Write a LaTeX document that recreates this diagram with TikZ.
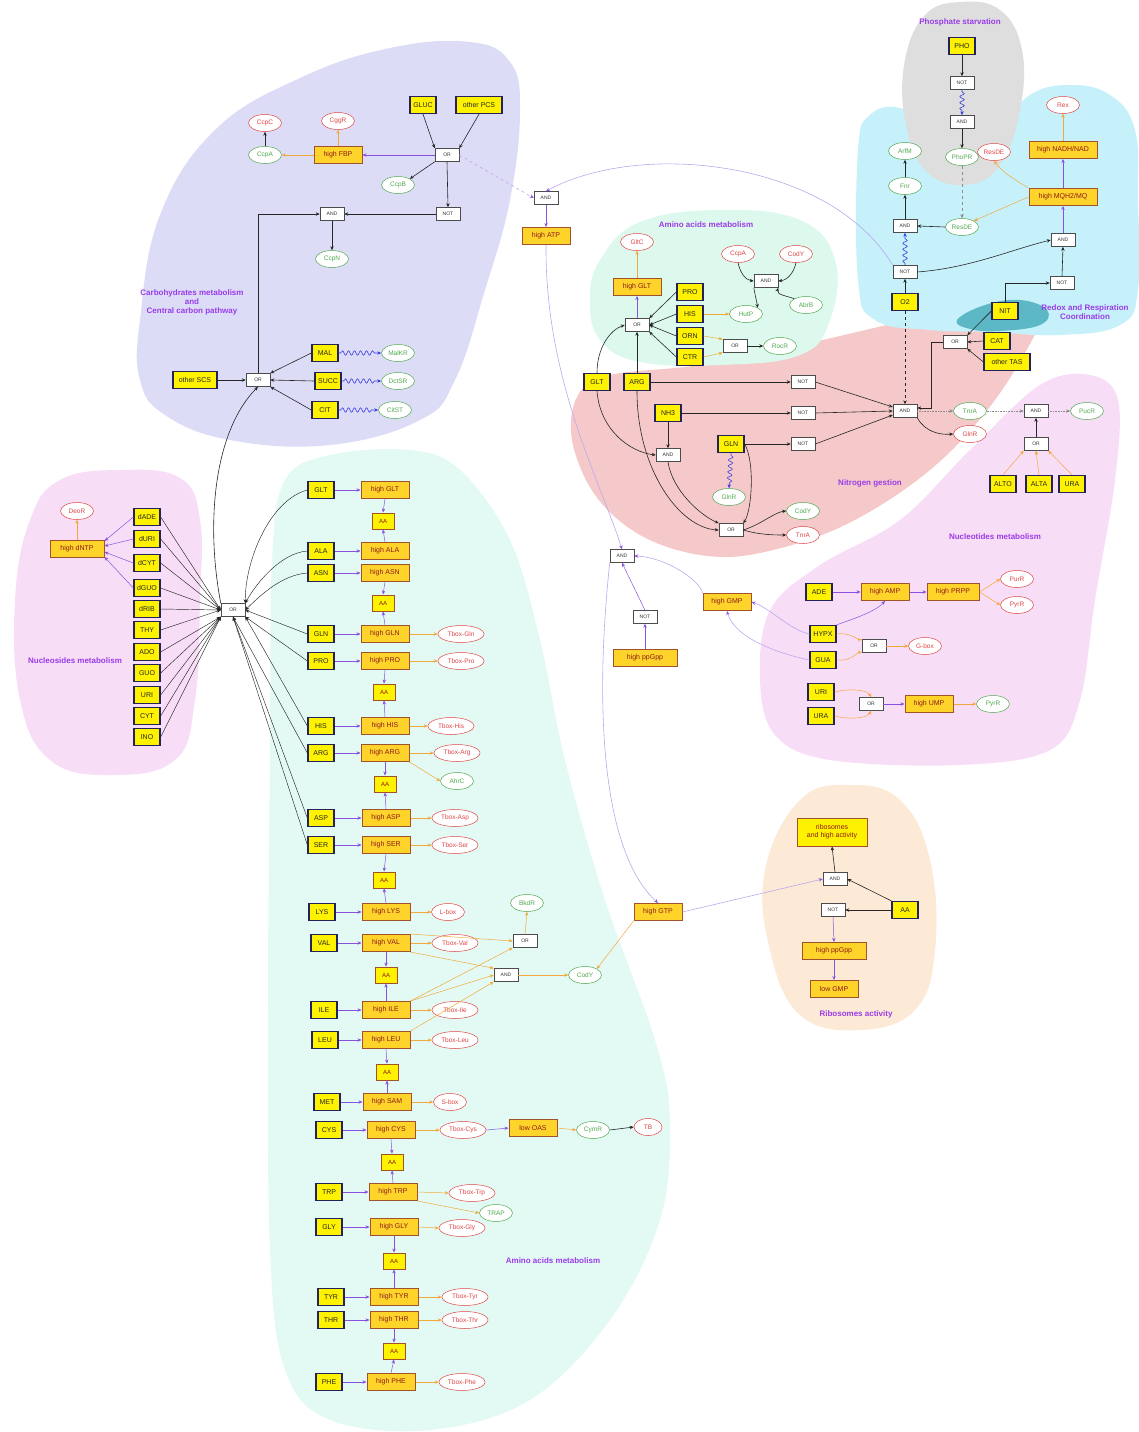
\documentclass[tikz,border=0pt]{standalone}
\usepackage{fontspec}
\setmainfont{Liberation Sans}
\usetikzlibrary{arrows.meta,shapes.geometric,decorations.pathmorphing,calc}

\definecolor{inedge}{HTML}{23235A}
\definecolor{hiedge}{HTML}{A0522D}
\definecolor{gold}{HTML}{FFD42A}
\definecolor{hitext}{HTML}{8B1A1A}
\definecolor{grn}{HTML}{4FA84F}
\definecolor{rd}{HTML}{E04545}
\definecolor{parrow}{HTML}{8A50E0}
\definecolor{larrow}{HTML}{BBA8EE}
\definecolor{oarrow}{HTML}{F2A93B}
\definecolor{lbl}{HTML}{9A3BE8}
\definecolor{snk}{HTML}{3C3CE0}
\definecolor{lav}{HTML}{DCDCF7}
\definecolor{grayreg}{HTML}{DEDEDE}
\definecolor{cyanreg}{HTML}{C6F1FA}
\definecolor{tealreg}{HTML}{5CB8C4}
\definecolor{salmon}{HTML}{F5C9C9}
\definecolor{mintup}{HTML}{DDF9EE}
\definecolor{pinkreg}{HTML}{F8DDF6}
\definecolor{mintbig}{HTML}{E3FAF4}
\definecolor{peach}{HTML}{FCE9D6}

\tikzset{
  inbox/.style={draw=inedge, line width=1.3pt, fill=yellow, text=black!85, font=\fontsize{7}{8}\selectfont, minimum width=26pt, minimum height=17pt, inner sep=1.5pt},
  hibox/.style={draw=hiedge, line width=1pt, fill=gold, text=hitext, font=\fontsize{7}{8}\selectfont, minimum width=48pt, minimum height=17pt, inner sep=1.5pt},
  aabox/.style={draw=hiedge, line width=1pt, fill=yellow, text=hitext, font=\fontsize{6}{7}\selectfont, minimum width=22pt, minimum height=16pt, inner sep=1pt},
  gate/.style={draw=black!70, fill=white, line width=0.5pt, text=black!80, font=\fontsize{5}{6}\selectfont, minimum width=24pt, minimum height=13pt, inner sep=1pt},
  gel/.style={ellipse, draw=grn, fill=white, text=grn, line width=0.5pt, font=\fontsize{6.5}{7}\selectfont, minimum width=33pt, minimum height=17pt, inner sep=0pt},
  rel/.style={ellipse, draw=rd, fill=white, text=rd, line width=0.5pt, font=\fontsize{6.5}{7}\selectfont, minimum width=33pt, minimum height=17pt, inner sep=0pt},
  tbox/.style={rel, minimum width=46pt},
  rlab/.style={text=lbl, font=\fontsize{8}{9}\selectfont\bfseries, align=center},
  ka/.style={draw=black!85, line width=0.6pt, -{Stealth[length=4pt,width=3.4pt]}},
  pa/.style={draw=parrow, line width=0.5pt, -{Stealth[length=4pt,width=3.4pt]}},
  la/.style={draw=larrow, line width=0.6pt, -{Stealth[length=4pt,width=3.4pt,color=parrow]}},
  oa/.style={draw=oarrow, line width=0.5pt, -{Stealth[length=4pt,width=3.4pt]}},
  sn/.style={draw=snk, line width=0.6pt, -{Stealth[length=4pt,width=3.4pt]}, decorate, decoration={snake, amplitude=2.2pt, segment length=6pt, pre length=2pt, post length=4pt}},
}

\begin{document}
\begin{tikzpicture}[x=1pt,y=-1pt]
\useasboundingbox (0,0) rectangle (1138,1432);

% ---------------- background regions ----------------
\fill[lav] plot[smooth cycle, tension=0.7] coordinates {(140,320) (160,215) (215,130) (300,78) (390,48) (470,42) (510,62) (520,110) (510,200) (485,290) (455,380) (420,420) (330,445) (230,440) (165,415) (140,380)};
\fill[salmon] plot[smooth cycle, tension=0.6] coordinates {(1043,318) (995,400) (930,470) (845,525) (760,553) (700,555) (640,535) (595,495) (572,440) (578,395) (610,375) (700,365) (800,345) (900,322) (980,305) (1035,305)};
\fill[cyanreg] plot[smooth cycle, tension=0.7] coordinates {(858,150) (870,115) (900,108) (930,130) (960,175) (1000,130) (1030,95) (1070,85) (1110,95) (1135,130) (1138,200) (1138,290) (1120,325) (1060,335) (990,332) (930,330) (875,320) (858,280)};
\fill[grayreg] plot[smooth cycle, tension=0.7] coordinates {(905,60) (925,15) (960,2) (1000,10) (1022,50) (1020,110) (1000,165) (965,185) (925,170) (905,120)};
\fill[tealreg] plot[smooth cycle, tension=0.7] coordinates {(957,320) (985,305) (1020,300) (1047,310) (1040,325) (1000,331) (970,329)};
\fill[mintup] plot[smooth cycle, tension=0.7] coordinates {(600,260) (640,222) (720,210) (800,220) (835,260) (830,320) (800,355) (720,365) (640,362) (600,340) (590,300)};
\fill[pinkreg] plot[smooth cycle, tension=0.6] coordinates {(1040,385) (1090,375) (1118,400) (1115,480) (1095,600) (1080,700) (1050,750) (960,765) (830,760) (775,735) (760,680) (770,610) (820,565) (900,520) (970,450)};
\fill[pinkreg] plot[smooth cycle, tension=0.7] coordinates {(30,520) (60,480) (120,470) (180,478) (200,520) (200,600) (195,700) (175,760) (110,775) (50,760) (20,700) (15,600)};
\fill[mintbig] plot[smooth cycle, tension=0.6] coordinates {(285,480) (330,455) (410,450) (460,470) (510,540) (540,640) (565,760) (605,900) (655,1040) (670,1120) (660,1220) (610,1320) (530,1400) (430,1430) (330,1420) (285,1370) (270,1250) (268,1000) (270,750) (272,560)};
\fill[peach] plot[smooth cycle, tension=0.7] coordinates {(800,800) (850,785) (900,800) (930,860) (935,950) (915,1010) (860,1030) (800,1015) (770,950) (765,870)};

% ---------------- region titles ----------------
\node[rlab] (labCarb) at (192,302) {Carbohydrates metabolism\\and\\Central carbon pathway};
\node[rlab] (labPho) at (960,22) {Phosphate starvation};
\node[rlab] (labRedox) at (1085,312) {Redox and Respiration\\Coordination};
\node[rlab] (labAAup) at (706,225) {Amino acids metabolism};
\node[rlab] (labN) at (870,483) {Nitrogen gestion};
\node[rlab] (labNtR) at (995,537) {Nucleotides metabolism};
\node[rlab] (labNsL) at (75,661) {Nucleosides metabolism};
\node[rlab] (labAAlow) at (553,1261) {Amino acids metabolism};
\node[rlab] (labRib) at (856,1014) {Ribosomes activity};

% ---------------- carbohydrates ----------------
\node[rel] (CcpC) at (265,123) {CcpC};
\node[rel] (CggR) at (338,121) {CggR};
\node[gel] (CcpA) at (265,155) {CcpA};
\node[hibox] (hFBP) at (338,155) {high FBP};
\node[inbox] (GLUC) at (423,105) {GLUC};
\node[inbox, minimum width=46pt] (oPCS) at (479,105) {other PCS};
\node[gate] (orGlc) at (447,155) {OR};
\node[gel] (CcpB) at (398,185) {CcpB};
\node[gate] (notGlc) at (448,214) {NOT};
\node[gate] (andCN) at (332,214) {AND};
\node[gel] (CcpN) at (332,259) {CcpN};
\node[inbox, minimum width=44pt] (oSCS) at (195,380) {other SCS};
\node[gate] (orCarb) at (258,380) {OR};
\node[inbox] (MAL) at (325,353) {MAL};
\node[inbox] (SUCC) at (328,381) {SUCC};
\node[inbox] (CIT) at (325,410) {CIT};
\node[gel] (MalKR) at (398,353) {MalKR};
\node[gel] (DctSR) at (398,381) {DctSR};
\node[gel] (CitST) at (395,410) {CitST};

\draw[ka] (GLUC.south) -- (orGlc.north west);
\draw[ka] (oPCS.south) -- (orGlc.north east);
\draw[ka] (orGlc.south west) -- (CcpB.north east);
\draw[ka] (orGlc.south) -- (notGlc.north);
\draw[ka] (notGlc.west) -- (andCN.east);
\draw[ka] (orCarb.north) |- (andCN.west);
\draw[ka] (andCN.south) -- (CcpN.north);
\draw[pa] (orGlc.west) -- (hFBP.east);
\draw[oa] (hFBP.west) -- (CcpA.east);
\draw[oa] (hFBP.north) -- (CggR.south);
\draw[ka] (CcpA.north) -- (CcpC.south);
\draw[ka] (oSCS.east) -- (orCarb.west);
\draw[ka] (MAL.west) -- (orCarb.north east);
\draw[ka] (SUCC.west) -- (orCarb.east);
\draw[ka] (CIT.west) -- (orCarb.south east);
\draw[sn] (MAL.east) -- (MalKR.west);
\draw[sn] (SUCC.east) -- (DctSR.west);
\draw[sn] (CIT.east) -- (CitST.west);

% ---------------- central nutrient OR ----------------
\node[gate] (cOR) at (233,610) {OR};
\draw[ka] (cOR.north west) .. controls (205,520) and (215,430) .. (orCarb.south);

% ---------------- nucleosides (left) ----------------
\node[rel] (DeoR) at (77,511) {DeoR};
\node[hibox, minimum width=54pt] (hdNTP) at (77,549) {high dNTP};
\draw[oa] (hdNTP.north) -- (DeoR.south);
\foreach \n/\y in {dADE/517, dURI/539, dCYT/563, dGUO/588, dRIB/609, THY/630, ADO/652, GUO/673, URI/695, CYT/716, INO/737}{
  \node[inbox] (\n) at (147,\y) {\n};
}
\foreach \n in {dADE, dURI, dCYT, dGUO, dRIB, THY}{
  \draw[ka, line width=0.45pt] (\n.east) -- (cOR.west);
}
\foreach \n in {ADO, GUO, URI, CYT, INO}{
  \draw[ka, line width=0.45pt] (\n.east) -- (cOR.south west);
}
\draw[pa] (dADE.west) -- ($(hdNTP.east)+(0,-8)$);
\draw[pa] (dURI.west) -- ($(hdNTP.east)+(0,-3)$);
\draw[pa] (dCYT.west) -- ($(hdNTP.east)+(0,3)$);
\draw[pa] (dGUO.west) -- ($(hdNTP.east)+(0,8)$);

% ---------------- amino acids column ----------------
\node[inbox] (iGLT) at (321,490) {GLT};
\node[hibox] (hGLT) at (385,490) {high GLT};
\node[aabox] (aa1) at (383,521) {AA};
\node[inbox] (iALA) at (321,551) {ALA};
\node[hibox] (hALA) at (385,551) {high ALA};
\node[inbox] (iASN) at (321,573) {ASN};
\node[hibox] (hASN) at (385,573) {high ASN};
\node[aabox] (aa2) at (383,603) {AA};
\node[inbox] (iGLN) at (321,634) {GLN};
\node[hibox] (hGLN) at (385,634) {high GLN};
\node[tbox] (tGLN) at (461,634) {Tbox-Gln};
\node[inbox] (iPRO) at (321,661) {PRO};
\node[hibox] (hPRO) at (385,661) {high PRO};
\node[tbox] (tPRO) at (461,661) {Tbox-Pro};
\node[aabox] (aa3) at (384,692) {AA};
\node[inbox] (iHIS) at (321,726) {HIS};
\node[hibox] (hHIS) at (385,726) {high HIS};
\node[tbox] (tHIS) at (451,726) {Tbox-His};
\node[inbox] (iARG) at (321,753) {ARG};
\node[hibox] (hARG) at (385,753) {high ARG};
\node[tbox] (tARG) at (457,753) {Tbox-Arg};
\node[gel] (AhrC) at (457,781) {AhrC};
\node[aabox] (aa4) at (385,784) {AA};
\node[inbox] (iASP) at (321,818) {ASP};
\node[hibox] (hASP) at (386,818) {high ASP};
\node[tbox] (tASP) at (455,818) {Tbox-Asp};
\node[inbox] (iSER) at (321,845) {SER};
\node[hibox] (hSER) at (386,845) {high SER};
\node[tbox] (tSER) at (455,845) {Tbox-Ser};
\node[aabox] (aa5) at (384,880) {AA};
\node[inbox] (iLYS) at (322,912) {LYS};
\node[hibox] (hLYS) at (386,912) {high LYS};
\node[rel] (Lbox) at (448,912) {L-box};
\node[inbox] (iVAL) at (324,943) {VAL};
\node[hibox] (hVAL) at (386,943) {high VAL};
\node[tbox] (tVAL) at (455,943) {Tbox-Val};
\node[aabox] (aa6) at (386,975) {AA};
\node[inbox] (iILE) at (324,1010) {ILE};
\node[hibox] (hILE) at (386,1010) {high ILE};
\node[tbox] (tILE) at (455,1010) {Tbox-Ile};
\node[inbox] (iLEU) at (325,1040) {LEU};
\node[hibox] (hLEU) at (386,1040) {high LEU};
\node[tbox] (tLEU) at (455,1040) {Tbox-Leu};
\node[aabox] (aa7) at (387,1072) {AA};
\node[inbox] (iMET) at (327,1102) {MET};
\node[hibox] (hSAM) at (387,1102) {high SAM};
\node[rel] (Sbox) at (450,1102) {S-box};
\node[inbox] (iCYS) at (329,1130) {CYS};
\node[hibox] (hCYS) at (391,1130) {high CYS};
\node[tbox] (tCYS) at (463,1130) {Tbox-Cys};
\node[hibox] (lowOAS) at (533,1128) {low OAS};
\node[gel] (CymR) at (593,1130) {CymR};
\node[rel, minimum width=28pt] (TB) at (648,1127) {TB};
\node[aabox] (aa8) at (392,1162) {AA};
\node[inbox] (iTRP) at (329,1192) {TRP};
\node[hibox] (hTRP) at (393,1192) {high TRP};
\node[tbox] (tTRP) at (472,1193) {Tbox-Trp};
\node[gel] (TRAP) at (496,1213) {TRAP};
\node[inbox] (iGLY) at (329,1227) {GLY};
\node[hibox] (hGLY) at (394,1227) {high GLY};
\node[tbox] (tGLY) at (462,1228) {Tbox-Gly};
\node[aabox] (aa9) at (394,1261) {AA};
\node[inbox] (iTYR) at (331,1297) {TYR};
\node[hibox] (hTYR) at (394,1297) {high TYR};
\node[tbox] (tTYR) at (465,1297) {Tbox-Tyr};
\node[inbox] (iTHR) at (331,1320) {THR};
\node[hibox] (hTHR) at (394,1320) {high THR};
\node[tbox] (tTHR) at (465,1320) {Tbox-Thr};
\node[aabox] (aa10) at (394,1351) {AA};
\node[inbox] (iPHE) at (329,1382) {PHE};
\node[hibox] (hPHE) at (391,1382) {high PHE};
\node[tbox] (tPHE) at (462,1382) {Tbox-Phe};

% input -> high level
\foreach \a/\b in {iGLT/hGLT, iALA/hALA, iASN/hASN, iGLN/hGLN, iPRO/hPRO, iHIS/hHIS, iARG/hARG, iASP/hASP, iSER/hSER, iLYS/hLYS, iVAL/hVAL, iILE/hILE, iLEU/hLEU, iMET/hSAM, iCYS/hCYS, iTRP/hTRP, iGLY/hGLY, iTYR/hTYR, iTHR/hTHR, iPHE/hPHE}{
  \draw[pa] (\a.east) -- (\b.west);
}
% high level -> sensors
\foreach \a/\b in {hGLN/tGLN, hPRO/tPRO, hHIS/tHIS, hARG/tARG, hASP/tASP, hSER/tSER, hLYS/Lbox, hVAL/tVAL, hILE/tILE, hLEU/tLEU, hSAM/Sbox, hCYS/tCYS, hTRP/tTRP, hGLY/tGLY, hTYR/tTYR, hTHR/tTHR, hPHE/tPHE}{
  \draw[oa] (\a.east) -- (\b.west);
}
\draw[oa] (hARG.south east) -- (AhrC.west);
\draw[oa] (hTRP.south east) -- (TRAP.west);
% high level -> AA pool
\foreach \u/\m/\d in {hGLT/aa1/hALA, hASN/aa2/hGLN, hPRO/aa3/hHIS, hARG/aa4/hASP, hSER/aa5/hLYS, hVAL/aa6/hILE, hLEU/aa7/hSAM, hCYS/aa8/hTRP, hGLY/aa9/hTYR, hTHR/aa10/hPHE}{
  \draw[pa] (\u.south) -- (\m.north);
  \draw[pa] (\d.north) -- (\m.south);
}
% amino acids -> central OR
\draw[ka, line width=0.45pt] (iGLT.west) .. controls (270,500) and (245,560) .. (cOR.north east);
\draw[ka, line width=0.45pt] (iALA.west) .. controls (280,553) and (255,585) .. (cOR.north east);
\draw[ka, line width=0.45pt] (iASN.west) .. controls (280,575) and (258,598) .. (cOR.east);
\draw[ka, line width=0.45pt] (iGLN.west) -- (cOR.east);
\draw[ka, line width=0.45pt] (iPRO.west) -- (cOR.south east);
\draw[ka, line width=0.45pt] (iHIS.west) -- (cOR.south east);
\draw[ka, line width=0.45pt] (iARG.west) -- (cOR.south);
\draw[ka, line width=0.45pt] (iASP.west) -- (cOR.south);
\draw[ka, line width=0.45pt] (iSER.west) -- (cOR.south);

% branched chain amino acids
\node[gate] (orB) at (525,941) {OR};
\node[gel] (BkdR) at (527,903) {BkdR};
\node[gate] (andB) at (506,975) {AND};
\node[gel] (CodYb) at (585,975) {CodY};
\draw[oa] (hVAL.north east) -- (orB.west);
\draw[oa] (hILE.north east) -- (orB.south west);
\draw[oa] (orB.north) -- (BkdR.south);
\draw[oa] (hVAL.south east) -- (andB.north west);
\draw[oa] (hILE.north east) -- (andB.west);
\draw[oa] (hLEU.north east) -- (andB.south west);
\draw[oa] (andB.east) -- (CodYb.west);
% cysteine
\draw[pa] (tCYS.east) -- (lowOAS.west);
\draw[oa] (lowOAS.east) -- (CymR.west);
\draw[ka] (CymR.east) -- (TB.west);

% ---------------- upper amino acids ----------------
\node[rel] (GltC) at (637,242) {GltC};
\node[hibox] (hGLT2) at (637,287) {high GLT};
\node[gate] (orAA) at (637,325) {OR};
\node[inbox] (PRO2) at (690,292) {PRO};
\node[inbox] (HIS2) at (690,314) {HIS};
\node[inbox] (ORN) at (690,336) {ORN};
\node[inbox] (CTR) at (690,357) {CTR};
\node[rel] (CcpA2) at (738,254) {CcpA};
\node[rel] (CodYr) at (796,254) {CodY};
\node[gate] (andH) at (766,281) {AND};
\node[gel] (AbrB) at (806,305) {AbrB};
\node[gel] (HutP) at (746,314) {HutP};
\node[gate] (orR) at (735,346) {OR};
\node[gel] (RocR) at (780,346) {RocR};

\draw[pa] (orAA.north) -- (hGLT2.south);
\draw[oa] (hGLT2.north) -- (GltC.south);
\draw[ka] (PRO2.west) -- (orAA.north east);
\draw[ka] (HIS2.west) -- (orAA.east);
\draw[ka] (ORN.west) -- (orAA.east);
\draw[ka] (CTR.west) -- (orAA.south east);
\draw[oa] (HIS2.east) -- (HutP.west);
\draw[ka] (andH.south west) -- (HutP.north east);
\draw[ka] (CcpA2.south) .. controls (740,272) and (745,280) .. (andH.west);
\draw[ka] (CodYr.south) .. controls (794,272) and (788,280) .. (andH.east);
\draw[ka] (AbrB.north west) .. controls (788,296) and (776,295) .. (andH.south east);
\draw[oa] (ORN.east) -- (orR.north west);
\draw[oa] (CTR.east) -- (orR.south west);
\draw[ka] (orR.east) -- (RocR.west);

% ---------------- nitrogen ----------------
\node[inbox] (GLT3) at (597,382) {GLT};
\node[inbox] (ARG3) at (637,382) {ARG};
\node[inbox] (NH3) at (668,413) {NH3};
\node[inbox] (GLN3) at (731,444) {GLN};
\node[gate] (not1) at (803,382) {NOT};
\node[gate] (not2) at (803,413) {NOT};
\node[gate] (not3) at (803,444) {NOT};
\node[gate] (andN) at (668,455) {AND};
\node[gel] (GlnR) at (729,497) {GlnR};
\node[gate] (orN) at (731,530) {OR};
\node[gel] (CodYg) at (803,511) {CodY};
\node[rel] (TnrAr) at (803,535) {TnrA};
\node[gate] (andBig) at (905,411) {AND};
\node[inbox] (O2) at (905,302) {O2};
\node[gate] (orNit) at (955,342) {OR};
\node[inbox] (NIT) at (1005,311) {NIT};
\node[inbox] (CAT) at (997,341) {CAT};
\node[inbox, minimum width=46pt] (oTAS) at (1007,362) {other TAS};
\node[gel] (TnrAg) at (970,411) {TnrA};
\node[rel] (GlnRr) at (970,434) {GlnR};
\node[gate] (andP) at (1036,411) {AND};
\node[gel] (PucR) at (1087,411) {PucR};
\node[gate] (orP) at (1036,444) {OR};
\node[inbox] (ALTO) at (1003,484) {ALTO};
\node[inbox] (ALTA) at (1039,484) {ALTA};
\node[inbox] (URA) at (1072,484) {URA};

\draw[ka] (GLT3.north) .. controls (597,348) and (610,330) .. (orAA.west);
\draw[ka] (ARG3.north) -- (orAA.south);
\draw[ka] (GLT3.south) .. controls (600,430) and (630,452) .. (andN.west);
\draw[ka] (ARG3.south) .. controls (637,470) and (680,528) .. (orN.west);
\draw[ka] (andN.south) .. controls (672,490) and (700,515) .. (orN.north west);
\draw[ka] (NH3.south) -- (andN.north);
\draw[sn] (GLN3.south) -- (GlnR.north);
\draw[ka] (GLN3.east) .. controls (755,462) and (752,510) .. (orN.north east);
\draw[ka] (orN.east) .. controls (760,525) and (775,512) .. (CodYg.west);
\draw[ka] (orN.east) .. controls (760,535) and (775,535) .. (TnrAr.west);
\draw[ka] (ARG3.east) -- (not1.west);
\draw[ka] (NH3.east) -- (not2.west);
\draw[ka] (GLN3.east) -- (not3.west);
\draw[ka] (not1.east) -- ($(andBig.west)+(0,-4)$);
\draw[ka] (not2.east) -- (andBig.west);
\draw[ka] (not3.east) -- ($(andBig.west)+(0,4)$);
\draw[ka, dashed] (O2.south) -- (andBig.north);
\draw[ka] (orNit.west) -| ($(andBig.north east)+(14,0)$) |- ($(andBig.east)+(0,-3)$);
\draw[ka] (NIT.west) -- (orNit.north east);
\draw[ka] (CAT.west) -- (orNit.east);
\draw[ka] (oTAS.west) -- (orNit.south east);
\draw[ka, draw=black!45, densely dotted] (andBig.east) -- (TnrAg.west);
\draw[ka] (andBig.south east) .. controls (925,432) and (940,435) .. (GlnRr.west);
\draw[ka, draw=black!45, densely dotted] (TnrAg.east) -- (andP.west);
\draw[ka, draw=black!45, densely dotted] (andP.east) -- (PucR.west);
\draw[ka] (orP.north) -- (andP.south);
\draw[oa] (ALTO.north) -- (orP.south west);
\draw[oa] (ALTA.north) -- (orP.south);
\draw[oa] (URA.north) -- (orP.south east);

% ---------------- phosphate and redox ----------------
\node[inbox] (PHO) at (962,46) {PHO};
\node[gate] (notP) at (962,83) {NOT};
\node[gate] (andPh) at (962,122) {AND};
\node[gel] (PhoPR) at (962,157) {PhoPR};
\node[rel] (ResDEr) at (994,152) {ResDE};
\node[gel] (ArfM) at (905,151) {ArfM};
\node[gel] (Fnr) at (905,186) {Fnr};
\node[gate] (andR) at (905,226) {AND};
\node[gel] (ResDEg) at (962,227) {ResDE};
\node[gate] (notO) at (905,272) {NOT};
\node[gate] (andMQ) at (1063,240) {AND};
\node[gate] (notNIT) at (1062,283) {NOT};
\node[hibox, minimum width=68pt] (hMQ) at (1063,197) {high MQH2/MQ};
\node[hibox, minimum width=68pt] (hNADH) at (1063,150) {high NADH/NAD};
\node[rel] (Rex) at (1063,105) {Rex};

\draw[ka] (PHO.south) -- (notP.north);
\draw[sn] (notP.south) -- (andPh.north);
\draw[ka] (andPh.south) -- (PhoPR.north);
\draw[ka, draw=black!45, dashed] (PhoPR.south) -- (ResDEg.north);
\draw[ka] (ResDEg.west) -- (andR.east);
\draw[ka] (andR.north) -- (Fnr.south);
\draw[ka] (Fnr.north) -- (ArfM.south);
\draw[ka] (O2.north) -- (notO.south);
\draw[sn] (notO.north) -- (andR.south);
\draw[ka] (notO.east) .. controls (970,268) and (1010,250) .. (andMQ.west);
\draw[ka] (notNIT.north) -- (andMQ.south);
\draw[ka] (NIT.north) |- (notNIT.west);
\draw[pa] (andMQ.north) -- (hMQ.south);
\draw[pa] (hMQ.north) -- (hNADH.south);
\draw[oa] (hNADH.north) -- (Rex.south);
\draw[oa] (hMQ.west) -- (ResDEg.north east);
\draw[oa] (hMQ.north west) .. controls (1015,180) and (1002,172) .. (ResDEr.south);

% ---------------- energy (ATP / GTP) ----------------
\node[gate] (andATP) at (546,198) {AND};
\node[hibox] (hATP) at (546,236) {high ATP};
\node[gate] (andG) at (622,556) {AND};
\node[gate] (notG) at (645,617) {NOT};
\node[hibox, minimum width=64pt] (hppGpp) at (645,658) {high ppGpp};
\node[hibox] (hGMP) at (727,602) {high GMP};
\node[hibox] (hGTP) at (658,912) {high GTP};

\draw[la, dashed] (orGlc.east) -- (andATP.west);
\draw[la] (notO.north west) .. controls (830,160) and (640,140) .. (andATP.north);
\draw[pa] (andATP.south) -- (hATP.north);
\draw[la] (hATP.south) .. controls (545,380) and (600,480) .. (andG.north);
\draw[pa] (hppGpp.north) -- (notG.south);
\draw[pa] (notG.north) -- (andG.south);
\draw[la] (hGMP.north west) .. controls (700,580) and (665,557) .. (andG.east);
\draw[la] (andG.south west) .. controls (595,700) and (600,850) .. (hGTP.north);
\draw[oa] (hGTP.south west) -- (CodYb.north east);

% ---------------- nucleotides (right) ----------------
\node[inbox] (ADE) at (819,592) {ADE};
\node[hibox] (hAMP) at (885,592) {high AMP};
\node[hibox, minimum width=52pt] (hPRPP) at (953,592) {high PRPP};
\node[rel] (PurR) at (1017,579) {PurR};
\node[rel] (PyrRr) at (1017,605) {PyrR};
\node[inbox] (HYPX) at (823,634) {HYPX};
\node[inbox] (GUA) at (823,660) {GUA};
\node[gate] (orG) at (874,646) {OR};
\node[rel] (Gbox) at (925,646) {G-box};
\node[inbox] (URI2) at (821,692) {URI};
\node[inbox] (URA2) at (821,716) {URA};
\node[gate] (orU) at (871,704) {OR};
\node[hibox] (hUMP) at (929,704) {high UMP};
\node[gel] (PyrR) at (993,704) {PyrR};

\draw[pa] (ADE.east) -- (hAMP.west);
\draw[pa] (hAMP.east) -- (hPRPP.west);
\draw[oa] (hPRPP.east) -- (PurR.west);
\draw[oa] (hPRPP.east) -- (PyrRr.west);
\draw[pa] (HYPX.north east) .. controls (850,620) and (875,612) .. (hAMP.south);
\draw[la] (HYPX.west) .. controls (790,630) and (770,608) .. (hGMP.east);
\draw[la] (GUA.west) .. controls (785,655) and (735,640) .. (hGMP.south);
\draw[oa] (HYPX.east) .. controls (850,632) and (858,640) .. (orG.north west);
\draw[oa] (GUA.east) .. controls (850,662) and (858,652) .. (orG.south west);
\draw[oa] (orG.east) -- (Gbox.west);
\draw[oa] (URI2.east) .. controls (850,688) and (868,690) .. (orU.north);
\draw[oa] (URA2.east) .. controls (850,720) and (868,718) .. (orU.south);
\draw[pa] (orU.east) -- (hUMP.west);
\draw[oa] (hUMP.east) -- (PyrR.west);

% ---------------- ribosomes ----------------
\node[hibox, fill=yellow, minimum width=70pt, minimum height=28pt, align=center, inner sep=1pt] (ribo) at (832,832) {ribosomes\\and high activity};
\node[gate] (andRib) at (835,879) {AND};
\node[inbox] (AAr) at (905,910) {AA};
\node[gate] (notRib) at (833,910) {NOT};
\node[hibox, minimum width=64pt] (hppGpp2) at (834,951) {high ppGpp};
\node[hibox] (lowGMP) at (834,989) {low GMP};

\draw[ka] (andRib.north) -- (ribo.south);
\draw[ka] (AAr.north west) -- (andRib.east);
\draw[ka] (AAr.west) -- (notRib.east);
\draw[pa] (notRib.south) -- (hppGpp2.north);
\draw[pa] (hppGpp2.south) -- (lowGMP.north);
\draw[la] (hGTP.east) -- (andRib.west);

\end{tikzpicture}
\end{document}
